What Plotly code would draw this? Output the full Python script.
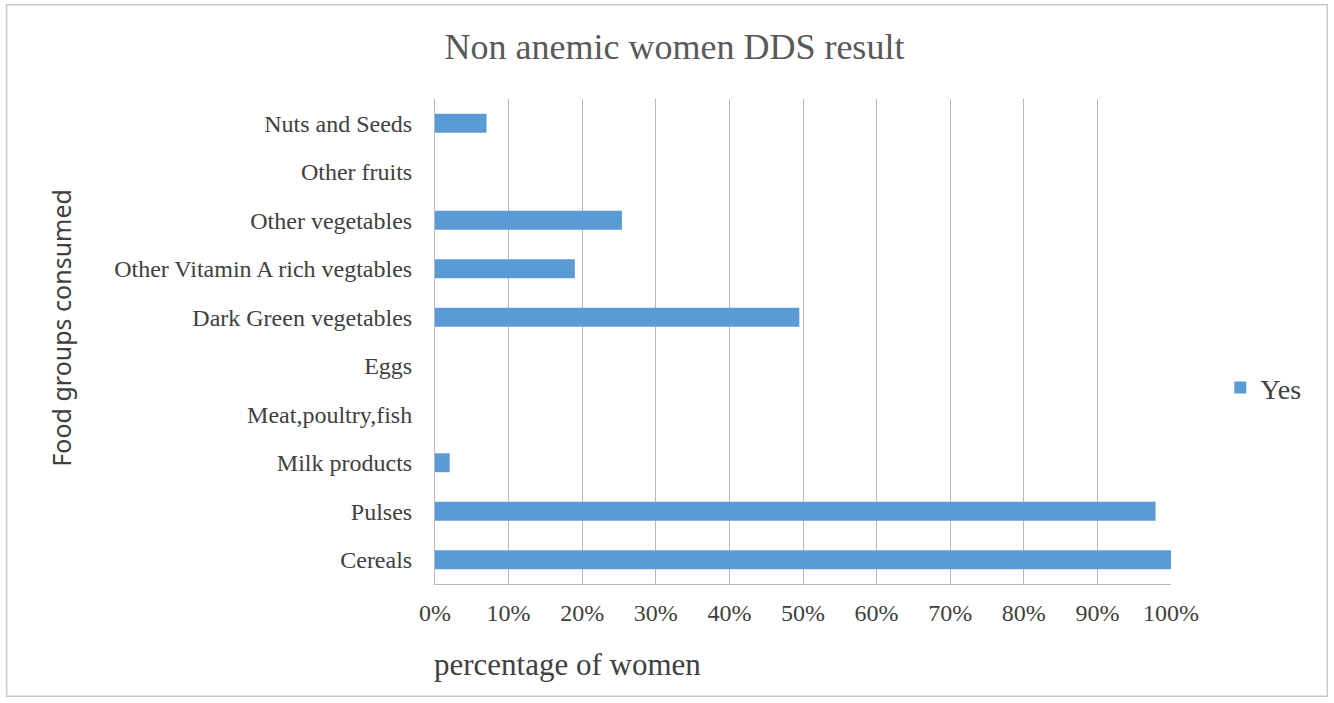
import plotly.graph_objects as go

# Food groups, listed bottom to top as they appear on the axis
food_groups = [
    "Cereals",
    "Pulses",
    "Milk products",
    "Meat,poultry,fish",
    "Eggs",
    "Dark Green vegetables",
    "Other Vitamin A rich vegtables",
    "Other vegetables",
    "Other fruits",
    "Nuts and Seeds",
]
# Share of non anemic women who consumed each group
yes_share = [1.00, 0.979, 0.02, 0.0, 0.0, 0.495, 0.19, 0.254, 0.0, 0.07]

x_ticks = [i / 10 for i in range(11)]
x_tick_labels = [f"{i * 10}%" for i in range(11)]

SERIF = "Liberation Serif"
BAR_BLUE = "#5b9bd5"

fig = go.Figure(
    go.Bar(
        x=yes_share,
        y=food_groups,
        orientation="h",
        name="Yes",
        marker=dict(color=BAR_BLUE, line=dict(width=0)),
        width=0.39,
    )
)

L, R, T, B = 434.5, 163.3, 98.5, 118.5
W, H = 1334, 703
pw = W - L - R
ph = H - T - B


def px_x(p):
    return (p - L) / pw


def px_y(p):
    return (H - B - p) / ph


fig.update_layout(
    width=W,
    height=H,
    margin=dict(l=L, r=R, t=T, b=B, pad=0),
    paper_bgcolor="white",
    plot_bgcolor="white",
    bargap=0.61,
    title=dict(
        text="Non anemic women DDS result",
        x=px_x(674),
        xanchor="center",
        xref="paper",
        y=1 - 46 / H,
        yanchor="middle",
        font=dict(family=SERIF, size=36, color="#595959"),
    ),
    showlegend=True,
    legend=dict(
        x=px_x(1220),
        xanchor="left",
        y=px_y(388),
        yanchor="middle",
        font=dict(family=SERIF, size=28, color="#404040"),
        bgcolor="rgba(0,0,0,0)",
        itemwidth=30,
    ),
    xaxis=dict(
        range=[0, 1],
        tickvals=x_ticks,
        ticktext=x_tick_labels,
        showgrid=True,
        gridcolor="#b8b8b8",
        gridwidth=1,
        zeroline=False,
        showline=True,
        linecolor="#b8b8b8",
        linewidth=1,
        ticks="",
        ticklabelstandoff=7,
        tickfont=dict(family=SERIF, size=24, color="#404040"),
        fixedrange=True,
    ),
    yaxis=dict(
        categoryorder="array",
        categoryarray=food_groups,
        showgrid=False,
        zeroline=False,
        showline=True,
        linecolor="#b8b8b8",
        linewidth=1,
        ticks="",
        ticklabelstandoff=17,
        tickfont=dict(family=SERIF, size=24, color="#404040"),
        fixedrange=True,
    ),
    annotations=[
        dict(
            text="percentage of women",
            xref="paper",
            yref="paper",
            x=px_x(431),
            y=px_y(665),
            xanchor="left",
            yanchor="middle",
            showarrow=False,
            font=dict(family=SERIF, size=31, color="#404040"),
        ),
        dict(
            text="Food groups consumed",
            xref="paper",
            yref="paper",
            x=px_x(60),
            y=px_y(328),
            xanchor="center",
            yanchor="middle",
            textangle=-90,
            showarrow=False,
            font=dict(family="Noto Sans", size=25, color="#404040"),
        ),
    ],
    shapes=[
        dict(
            type="rect",
            xref="paper",
            yref="paper",
            x0=px_x(6),
            x1=px_x(1327),
            y0=px_y(697),
            y1=px_y(4),
            line=dict(color="#c8c8c8", width=1.5),
            fillcolor="rgba(0,0,0,0)",
            layer="below",
        )
    ],
)

fig.write_html("out.html")
